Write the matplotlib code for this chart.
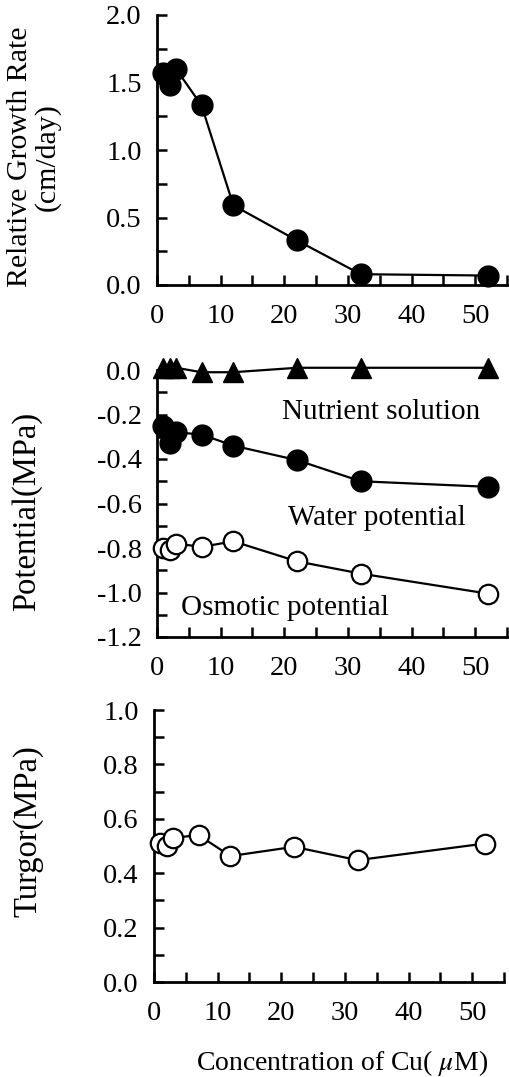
import matplotlib
matplotlib.use("Agg")
import matplotlib.pyplot as plt
from matplotlib.ticker import MultipleLocator, FormatStrFormatter

plt.rcParams['font.family'] = ['Liberation Serif', 'DejaVu Serif']
plt.rcParams['mathtext.fontset'] = 'stix'

# ---- data ----
cu = [1, 2, 3, 7, 12, 22, 32, 52]
growth_rate = [1.57, 1.48, 1.60, 1.33, 0.59, 0.33, 0.08, 0.07]
nutrient_solution = [0.01, 0.01, 0.01, -0.01, -0.01, 0.01, 0.01, 0.01]
water_potential = [-0.25, -0.33, -0.28, -0.29, -0.34, -0.405, -0.50, -0.525]
osmotic_potential = [-0.80, -0.81, -0.78, -0.795, -0.77, -0.86, -0.915, -1.005]
turgor = [0.51, 0.50, 0.53, 0.54, 0.463, 0.497, 0.448, 0.509]
xticks = [0, 10, 20, 30, 40, 50]

W, H = 510, 1077
fig = plt.figure(figsize=(W / 100, H / 100), dpi=100)

def px_axes(left, top, right, bottom):
    return fig.add_axes([left / W, 1 - bottom / H, (right - left) / W, (bottom - top) / H])

def ftext(x, y, s, **kw):
    fig.text(x / W, 1 - y / H, s, ha='center', va='center', **kw)

TICK_FS = 20.5
ANN_FS = 21

def style(ax, ylim, ymaj, ymin, fmt):
    ax.set_xlim(0, 55)
    ax.set_ylim(*ylim)
    for s in ['top', 'right']:
        ax.spines[s].set_visible(False)
    for s in ['left', 'bottom']:
        ax.spines[s].set_linewidth(2)
    ax.set_xticks(xticks)
    ax.xaxis.set_minor_locator(MultipleLocator(5))
    ax.yaxis.set_major_locator(MultipleLocator(ymaj))
    ax.yaxis.set_minor_locator(MultipleLocator(ymin))
    ax.yaxis.set_major_formatter(FormatStrFormatter(fmt))
    ax.tick_params(which='both', direction='in', length=7, width=1.8, labelsize=TICK_FS)
    ax.tick_params(axis='x', which='both', pad=14)
    ax.tick_params(axis='y', which='both', pad=11)

mk = dict(color='black', lw=1.6, clip_on=False, zorder=3)

# top panel
ax1 = px_axes(157, 15, 507, 285)
ax1.plot(cu, growth_rate, marker='o', ms=15, mfc='black', mec='black', **mk)
style(ax1, (0, 2.0), 0.5, 0.25, '%.1f')
ftext(34, 157, 'Relative Growth Rate\n(cm/day)', fontsize=21.5, rotation=90, linespacing=1.05)

# middle panel
ax2 = px_axes(157, 370, 507, 637)
ax2.plot(cu, nutrient_solution, marker='^', ms=15, mfc='black', mec='black', **mk)
ax2.plot(cu, water_potential, marker='o', ms=15, mfc='black', mec='black', **mk)
ax2.plot(cu, osmotic_potential, marker='o', ms=14, mfc='white', mec='black', mew=1.6, **mk)
style(ax2, (-1.2, 0.0), 0.2, 0.1, '%.1f')
ftext(27, 511, 'Potential(MPa)', fontsize=23.5, rotation=90)
ax2.text(35.2, -0.19, 'Nutrient solution', fontsize=ANN_FS, ha='center', va='center')
ax2.text(34.5, -0.667, 'Water potential', fontsize=ANN_FS, ha='center', va='center')
ax2.text(20.1, -1.07, 'Osmotic potential', fontsize=ANN_FS, ha='center', va='center')

# bottom panel
ax3 = px_axes(154, 710, 504, 982)
ax3.plot(cu, turgor, marker='o', ms=14, mfc='white', mec='black', mew=1.6, **mk)
style(ax3, (0, 1.0), 0.2, 0.1, '%.1f')
ftext(28, 831, 'Turgor(MPa)', fontsize=23.5, rotation=90)
ftext(342, 1063, 'Concentration of Cu( $\\mu$M)', fontsize=20)

fig.savefig('out.png', dpi=100)
